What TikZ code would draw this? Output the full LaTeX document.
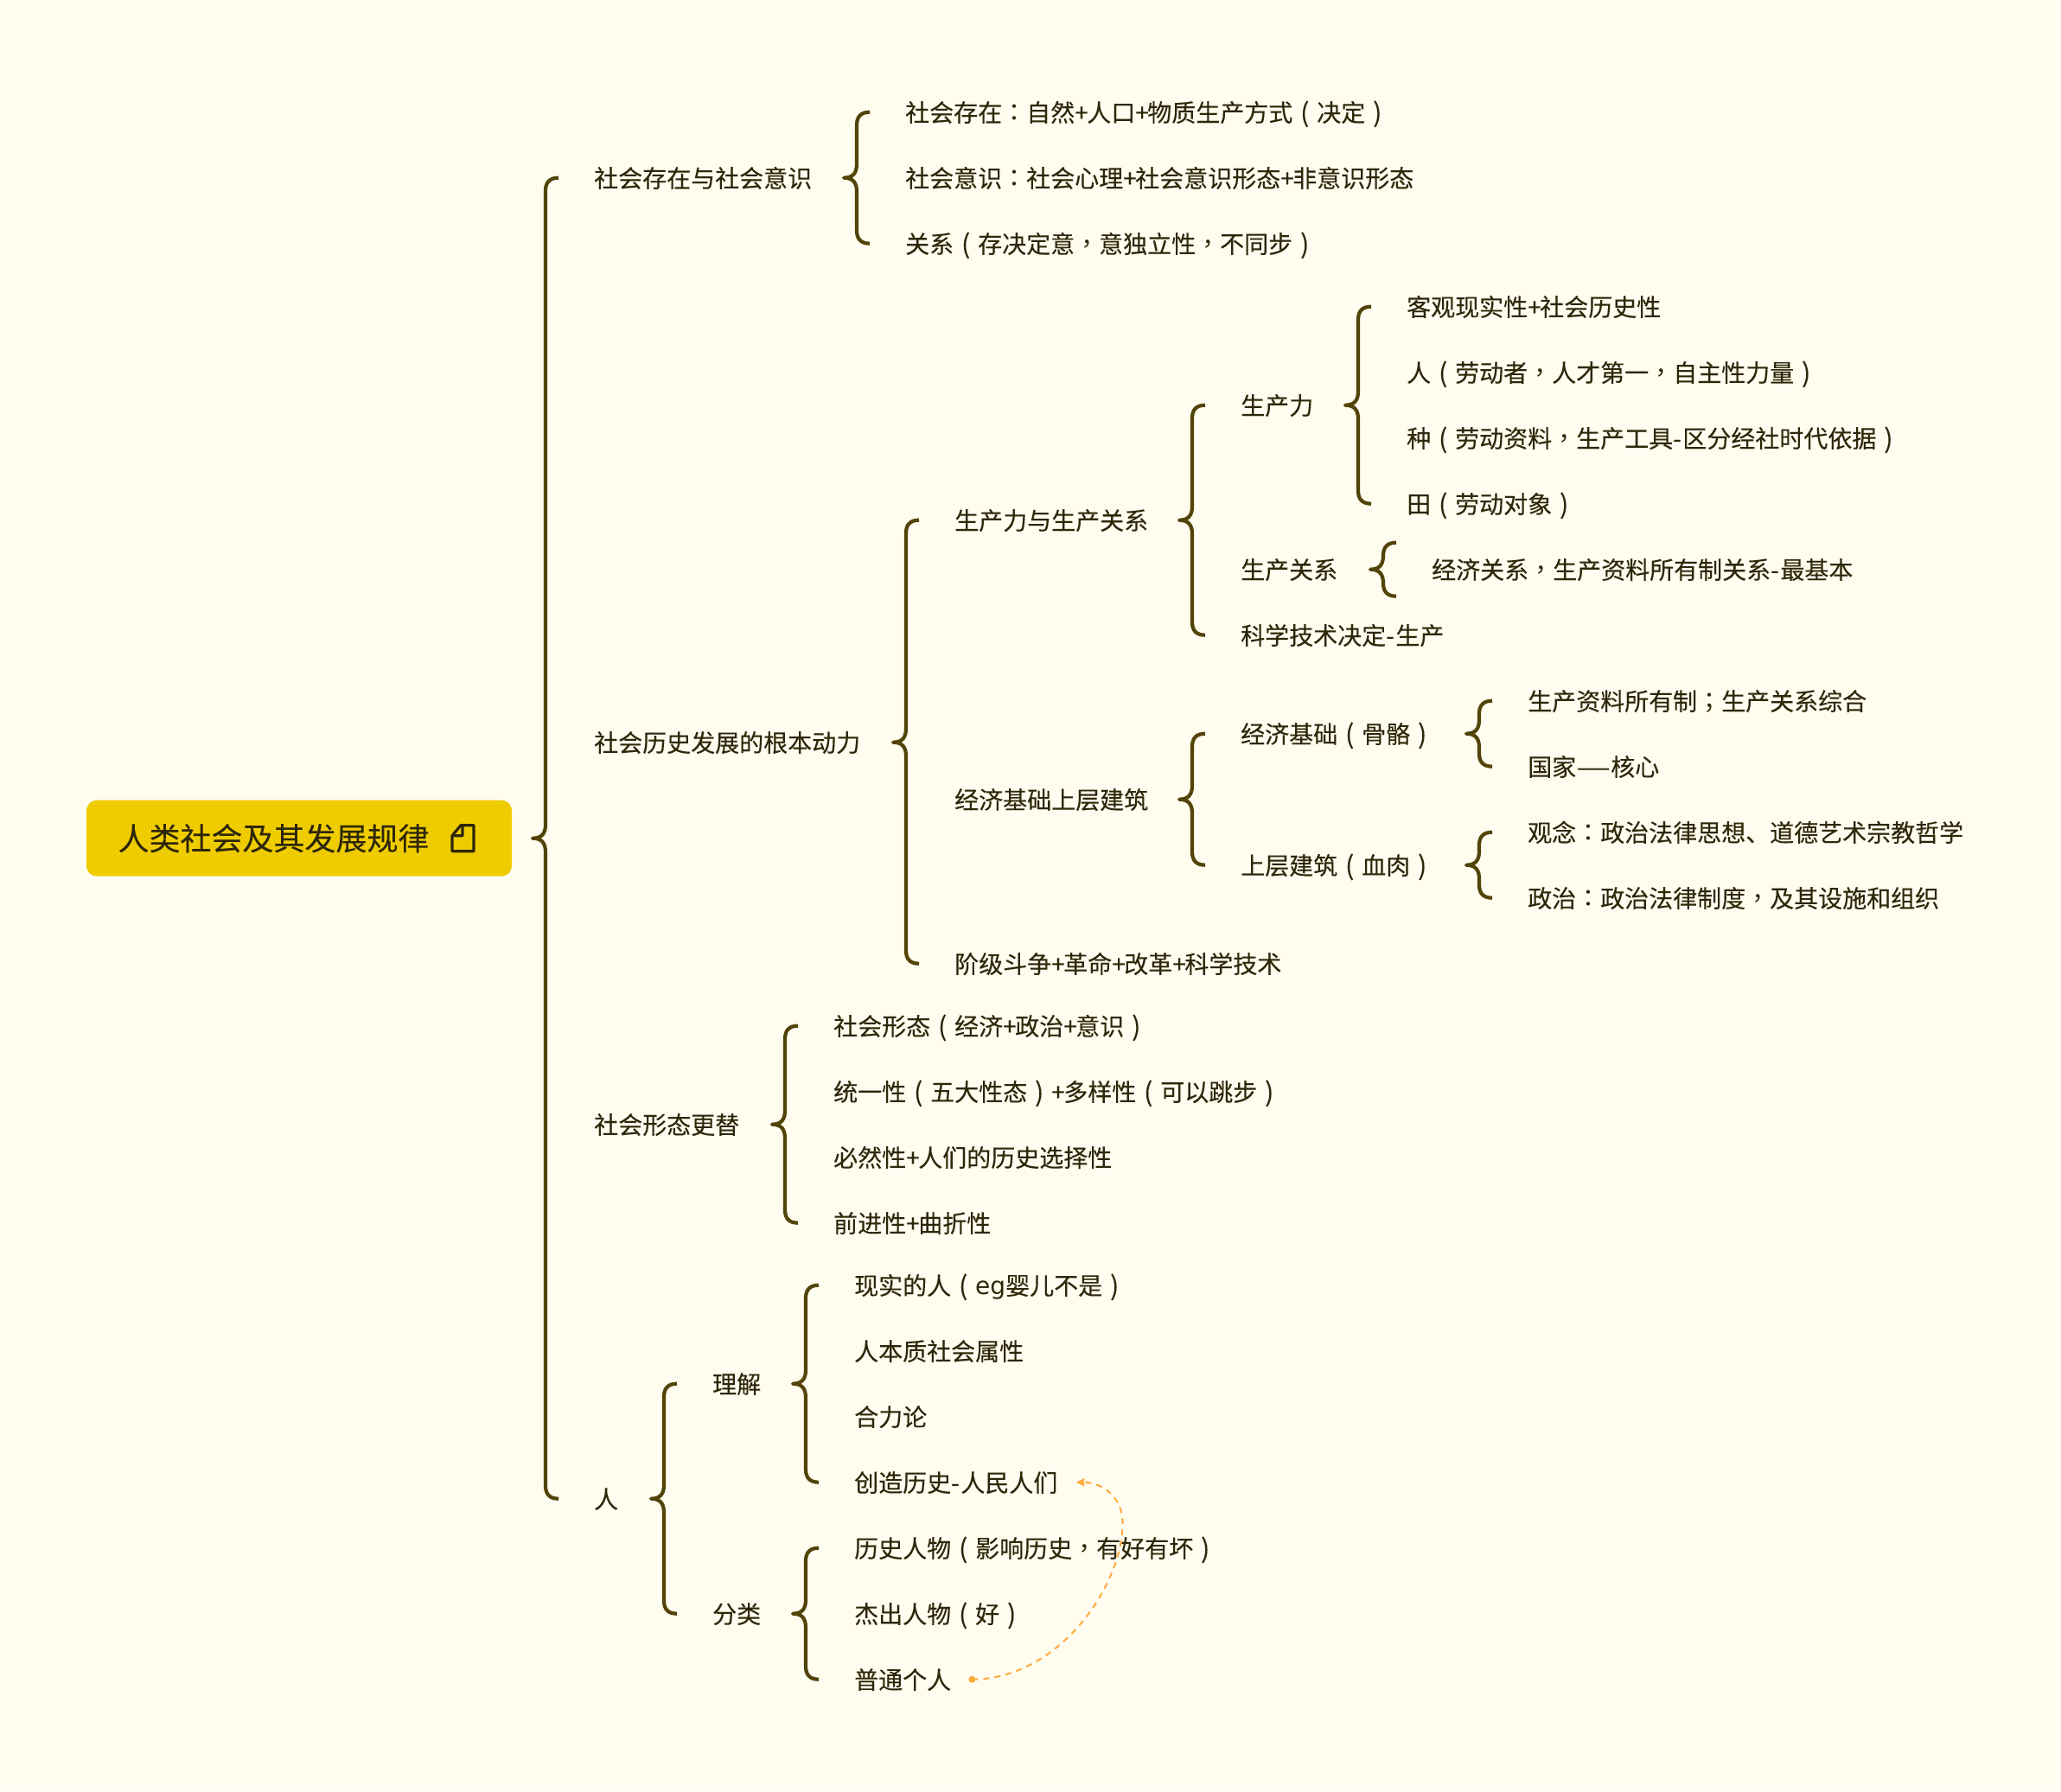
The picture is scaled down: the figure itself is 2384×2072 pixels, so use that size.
\documentclass[tikz,border=0pt]{standalone}
\usepackage{fontspec}
\setmainfont{Noto Sans CJK SC}[FakeBold=0.12]
\newfontfamily\tcf{Noto Sans CJK TC}
\newfontfamily\ltn{DejaVu Sans}
\usetikzlibrary{calc,arrows.meta}
\definecolor{bgc}{HTML}{FFFCF0}
\definecolor{txtc}{HTML}{2E2708}
\definecolor{linec}{HTML}{524408}
\definecolor{rootc}{HTML}{EFCC00}
\definecolor{linkc}{HTML}{FFAA3C}
\newcommand\lpn{\makebox[1em][c]{\raisebox{-0.6pt}{\scalebox{1.08}{(}}}}
\newcommand\rpn{\makebox[1em][c]{\raisebox{-0.6pt}{\scalebox{1.08}{)}}}}
\newcommand\cmm{{\tcf ，}}
\newcommand\cln{{\tcf ：}}
\newcommand\scl{{\tcf ；}}
\newcommand\pls{+\kern-1.5pt\relax}
\newcommand\hyp{-\kern1.5pt\relax}
\newcommand\mmbrace[3]{%
 \draw[mmline] let \p1=(#2.west),\p2=(#1.west),\p3=(#3.west) in
  (\x1-41pt,\y1) .. controls (\x1-51pt,\y1) and (\x1-56pt,\y1-5pt) .. (\x1-56pt,\y1-15pt)
  -- (\x1-56pt,\y2+16pt) .. controls (\x1-56pt,\y2+6pt) and (\x1-60pt,\y2) .. (\x1-71pt,\y2)
  .. controls (\x1-60pt,\y2) and (\x1-56pt,\y2-6pt) .. (\x1-56pt,\y2-16pt)
  -- (\x1-56pt,\y3+15pt) .. controls (\x1-56pt,\y3+5pt) and (\x1-51pt,\y3) .. (\x1-41pt,\y3);}
\newcommand\mmbraceone[2]{%
 \draw[mmline] let \p1=(#2.west) in
  (\x1-41pt,\y1+31pt) .. controls (\x1-51pt,\y1+31pt) and (\x1-56pt,\y1+26pt) .. (\x1-56pt,\y1+16pt)
  .. controls (\x1-56pt,\y1+6pt) and (\x1-60pt,\y1) .. (\x1-71pt,\y1)
  .. controls (\x1-60pt,\y1) and (\x1-56pt,\y1-6pt) .. (\x1-56pt,\y1-16pt)
  .. controls (\x1-56pt,\y1-26pt) and (\x1-51pt,\y1-31pt) .. (\x1-41pt,\y1-31pt);}
\tikzset{
 mmline/.style={draw=linec,line width=4.2pt,line join=round},
 topic/.style={anchor=west,inner sep=0pt,text=txtc,font=\fontsize{28pt}{30pt}\selectfont,text height=25pt,text depth=3pt},
 rootbox/.style={fill=rootc,rounded corners=12pt,inner sep=0pt,minimum width=492pt,minimum height=88pt,text=txtc,font=\fontsize{36pt}{38pt}\selectfont},
 linkline/.style={draw=linkc,line width=2pt,dash pattern=on 7pt off 6pt},
}
\begin{document}
\begin{tikzpicture}[x=1pt,y=-1pt]
\useasboundingbox[fill=bgc] (0,-0.7) rectangle (2384,2071.3);
\node[rootbox] (root) at (346,969) {人类社会及其发展规律\rule{59pt}{0pt}};
\draw[draw=txtc,line width=3.2pt,line join=round] ($(root.center)+(187,-15)$) -- ($(root.center)+(202,-15)$) -- ($(root.center)+(202,15)$) -- ($(root.center)+(177,15)$) -- ($(root.center)+(177,-3)$) -- cycle ($(root.center)+(189,-15)$) -- ($(root.center)+(189,-3)$) -- ($(root.center)+(177,-3)$);
% level 1
\node[topic] (a) at (687,205) {社会存在与社会意识};
\node[topic] (b) at (687,858) {社会历史发展的根本动力};
\node[topic] (c) at (687,1300) {社会形态更替};
\node[topic] (d) at (687,1733) {人};
% a
\node[topic] (a1) at (1047,129) {社会存在\cln 自然\pls 人口\pls 物质生产方式\lpn 决定\rpn};
\node[topic] (a2) at (1047,205) {社会意识\cln 社会心理\pls 社会意识形态\pls 非意识形态};
\node[topic] (a3) at (1047,281) {关系\lpn 存决定意\cmm 意独立性\cmm 不同步\rpn};
% b
\node[topic] (b1) at (1104,601) {生产力与生产关系};
\node[topic] (b2) at (1104,924) {经济基础上层建筑};
\node[topic] (b3) at (1104,1114) {阶级斗争\pls 革命\pls 改革\pls 科学技术};
\node[topic] (b11) at (1435,468) {生产力};
\node[topic] (b12) at (1435,658) {生产关系};
\node[topic] (b13) at (1435,734) {科学技术决定\hyp 生产};
\node[topic] (p1) at (1627,354) {客观现实性\pls 社会历史性};
\node[topic] (p2) at (1627,430) {人\lpn 劳动者\cmm 人才第一\cmm 自主性力量\rpn};
\node[topic] (p3) at (1627,506) {种\lpn 劳动资料\cmm 生产工具\hyp 区分经社时代依据\rpn};
\node[topic] (p4) at (1627,582) {田\lpn 劳动对象\rpn};
\node[topic] (r1) at (1656,658) {经济关系\cmm 生产资料所有制关系\hyp 最基本};
\node[topic] (b21) at (1435,848) {经济基础\lpn 骨骼\rpn};
\node[topic] (b22) at (1435,1000) {上层建筑\lpn 血肉\rpn};
\node[topic] (e1) at (1767,810) {生产资料所有制\scl 生产关系综合};
\node[topic] (e2) at (1767,886) {国家\scalebox{1.6}[1]{—}核心};
\node[topic] (s1) at (1767,962) {观念\cln 政治法律思想、道德艺术宗教哲学};
\node[topic] (s2) at (1767,1038) {政治\cln 政治法律制度\cmm 及其设施和组织};
% c
\node[topic] (c1) at (964,1186) {社会形态\lpn 经济\pls 政治\pls 意识\rpn};
\node[topic] (c2) at (964,1262) {统一性\lpn 五大性态\rpn\pls 多样性\lpn 可以跳步\rpn};
\node[topic] (c3) at (964,1338) {必然性\pls 人们的历史选择性};
\node[topic] (c4) at (964,1414) {前进性\pls 曲折性};
% d
\node[topic] (d1) at (824,1600) {理解};
\node[topic] (d2) at (824,1866) {分类};
\node[topic] (u1) at (988,1486) {现实的人\lpn {\ltn eg}婴儿不是\rpn};
\node[topic] (u2) at (988,1562) {人本质社会属性};
\node[topic] (u3) at (988,1638) {合力论};
\node[topic] (u4) at (988,1714) {创造历史\hyp 人民人们};
\node[topic] (v1) at (988,1790) {历史人物\lpn 影响历史\cmm 有好有坏\rpn};
\node[topic] (v2) at (988,1866) {杰出人物\lpn 好\rpn};
\node[topic] (v3) at (988,1942) {普通个人};
% braces
\mmbrace{root}{a}{d}
\mmbrace{a}{a1}{a3}
\mmbrace{b}{b1}{b3}
\mmbrace{b1}{b11}{b13}
\mmbrace{b11}{p1}{p4}
\mmbraceone{b12}{r1}
\mmbrace{b2}{b21}{b22}
\mmbrace{b21}{e1}{e2}
\mmbrace{b22}{s1}{s2}
\mmbrace{c}{c1}{c4}
\mmbrace{d}{d1}{d2}
\mmbrace{d1}{u1}{u4}
\mmbrace{d2}{v1}{v3}
% relationship
\coordinate (linkfrom) at ([xshift=24pt]v3.east);
\coordinate (linkto) at ([xshift=21pt]u4.east);
\fill[linkc] (linkfrom) circle (4pt);
\draw[linkline,-{Stealth[length=10pt,width=9pt,inset=1pt]}] (linkfrom) .. controls +(100,0) and ($(linkto)+(54,120)$) .. ($(linkto)+(54,47)$) .. controls ($(linkto)+(54,17)$) and ($(linkto)+(30,0)$) .. (linkto);
\end{tikzpicture}
\end{document}
